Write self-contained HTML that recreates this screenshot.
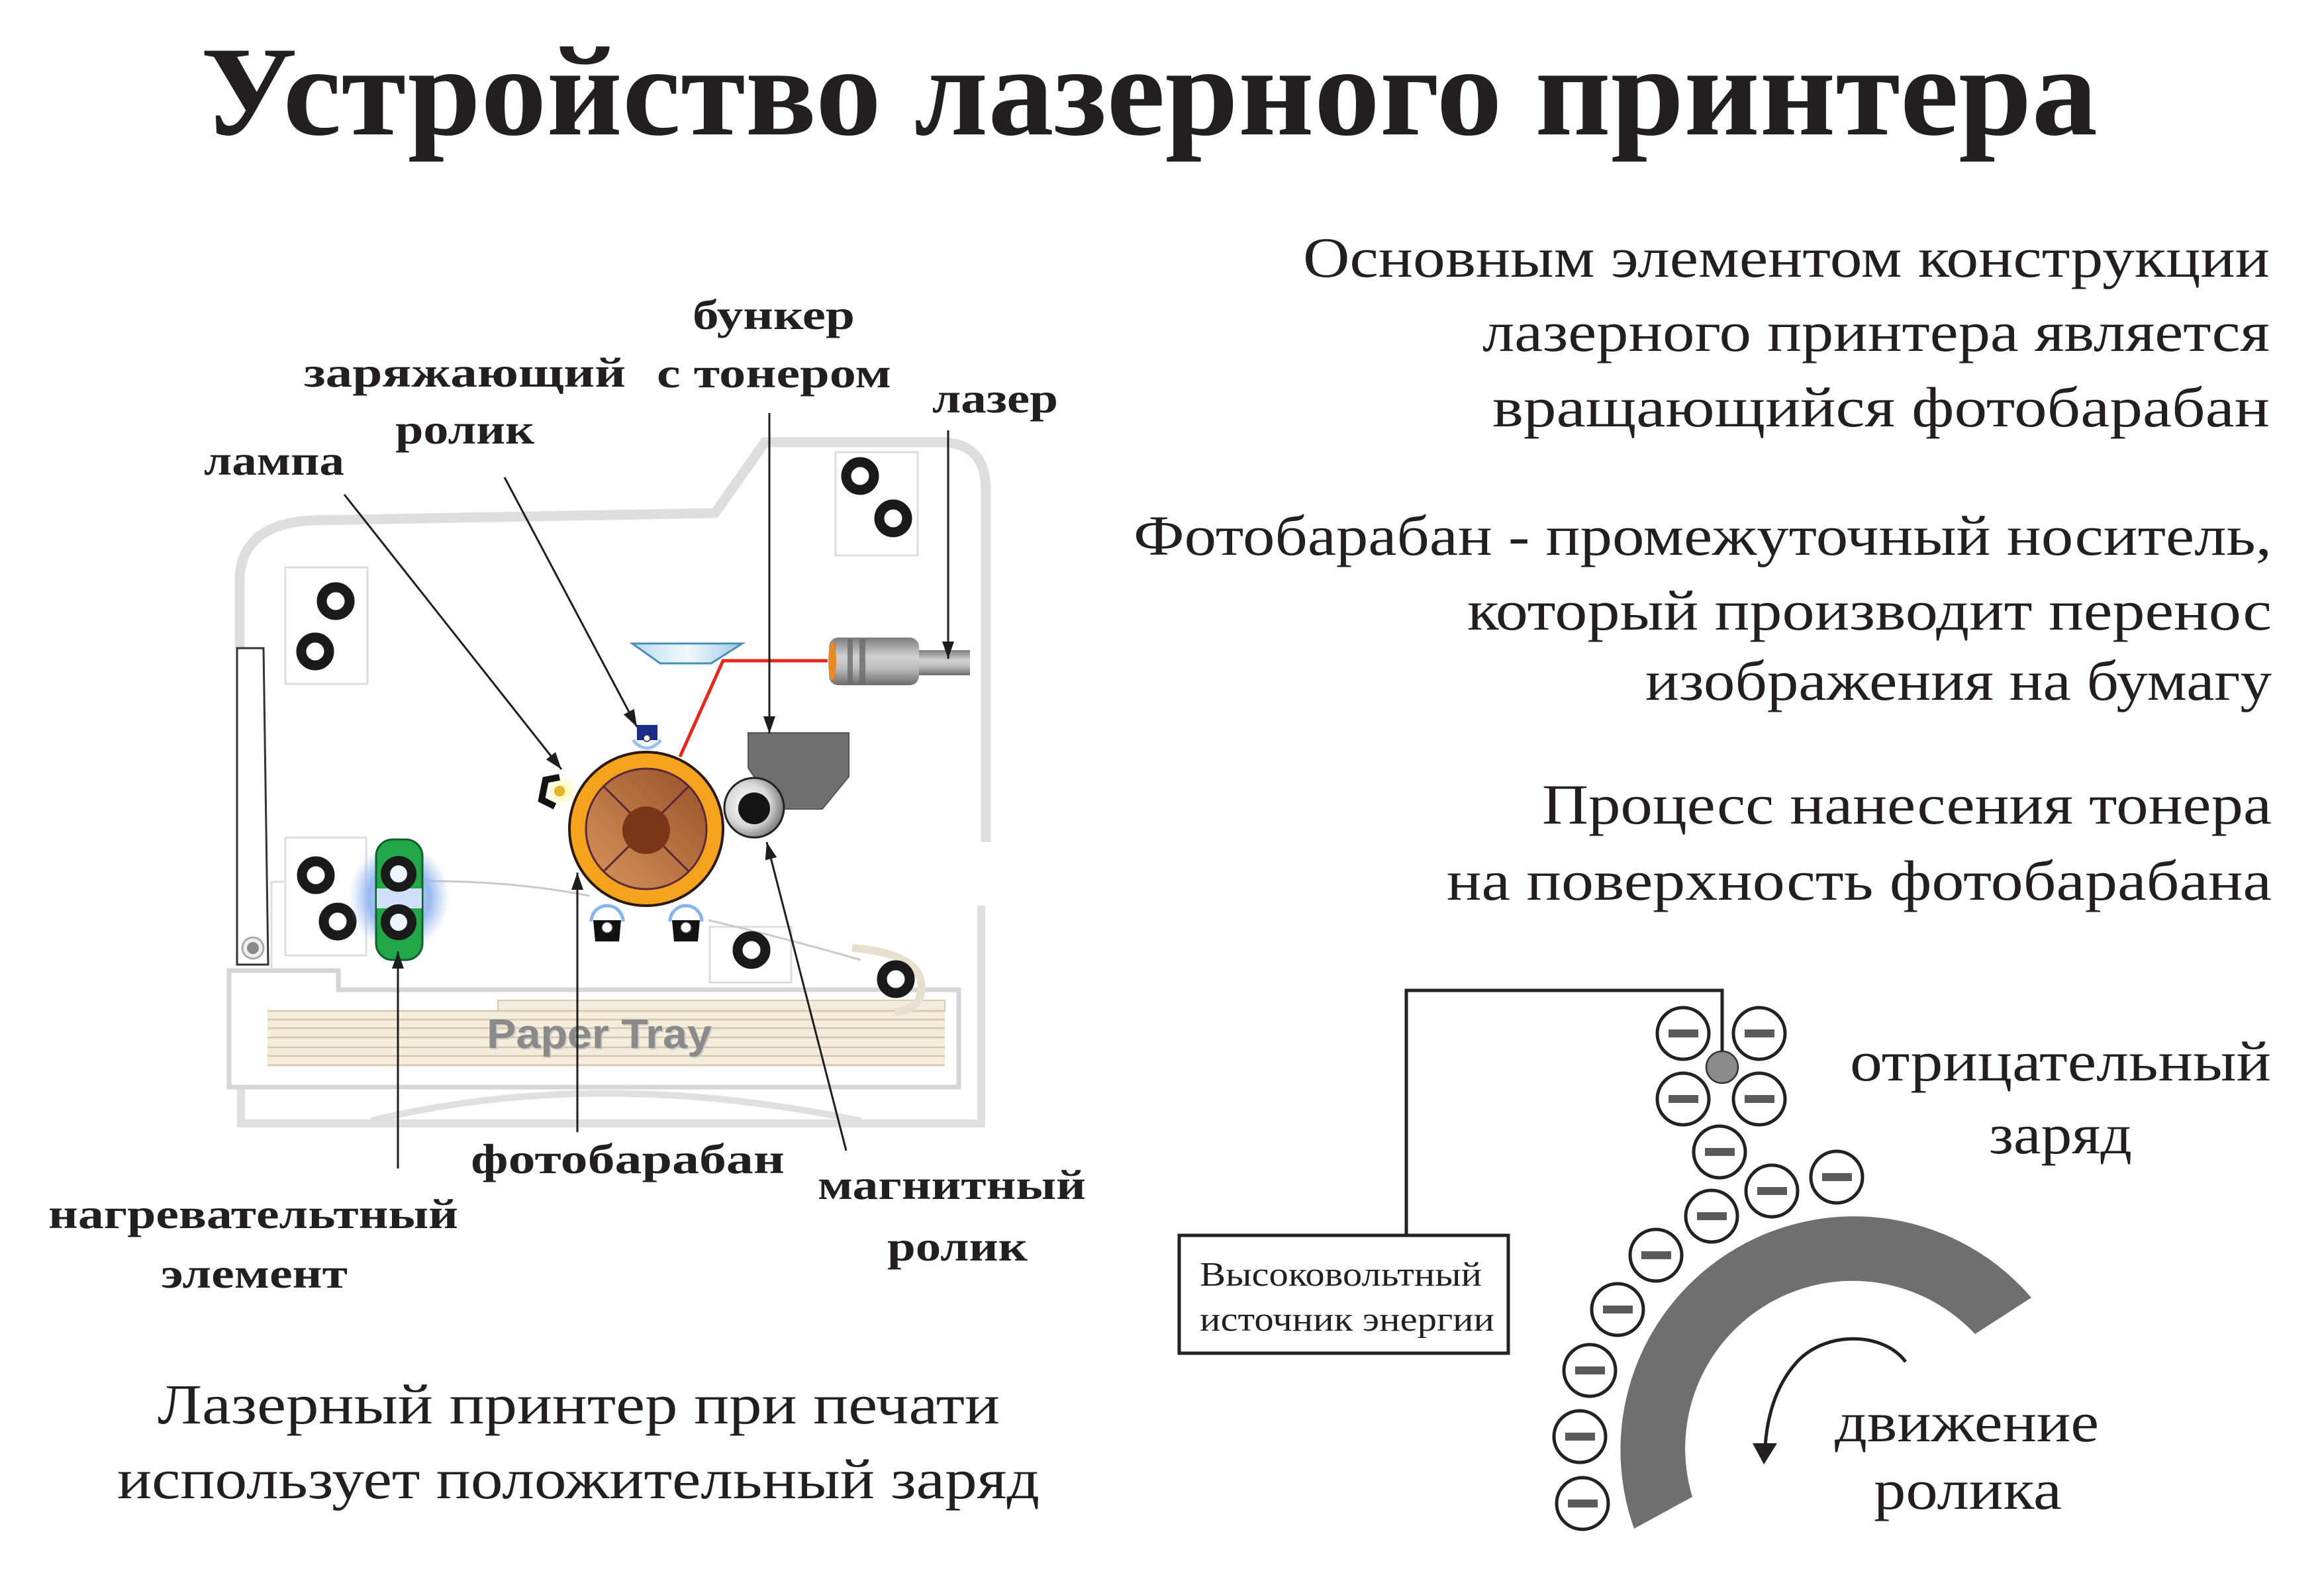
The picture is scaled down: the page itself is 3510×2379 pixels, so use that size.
<!DOCTYPE html>
<html>
<head>
<meta charset="utf-8">
<style>
html,body{margin:0;padding:0;background:#fff;}
svg{display:block;}
</style>
</head>
<body>
<svg width="3510" height="2379" viewBox="0 0 3510 2379" xmlns="http://www.w3.org/2000/svg">
<defs>
  <marker id="ah" markerUnits="userSpaceOnUse" markerWidth="28" markerHeight="20" refX="26" refY="9" orient="auto">
    <path d="M0,0 L26,9 L0,18 Z" fill="#1e1e1e"/>
  </marker>
  <linearGradient id="drumIn" x1="1" y1="0" x2="0" y2="1">
    <stop offset="0" stop-color="#97502a"/>
    <stop offset="1" stop-color="#d8955a"/>
  </linearGradient>
  <radialGradient id="silver" cx="0.4" cy="0.45" r="0.6">
    <stop offset="0" stop-color="#ffffff"/>
    <stop offset="0.6" stop-color="#d8d8d8"/>
    <stop offset="1" stop-color="#7a7a7a"/>
  </radialGradient>
  <linearGradient id="laserG" x1="0" y1="0" x2="0" y2="1">
    <stop offset="0" stop-color="#7c7c7c"/>
    <stop offset="0.4" stop-color="#d2d2d2"/>
    <stop offset="0.65" stop-color="#bcbcbc"/>
    <stop offset="1" stop-color="#6c6c6c"/>
  </linearGradient>
  <radialGradient id="glow" cx="0.5" cy="0.5" r="0.5">
    <stop offset="0" stop-color="#e8f1ff"/>
    <stop offset="0.6" stop-color="#96b9f0"/>
    <stop offset="1" stop-color="#a3c2f2" stop-opacity="0"/>
  </radialGradient>
  <radialGradient id="lampGlow" cx="0.5" cy="0.5" r="0.5">
    <stop offset="0" stop-color="#fff27a"/>
    <stop offset="1" stop-color="#fffbd0" stop-opacity="0"/>
  </radialGradient>
  <linearGradient id="mirrorG" x1="0" y1="0" x2="1" y2="0">
    <stop offset="0" stop-color="#b9dcf0"/>
    <stop offset="0.5" stop-color="#f2f9ff"/>
    <stop offset="1" stop-color="#9fcbe6"/>
  </linearGradient>
</defs>

<!-- ============ PRINTER DRAWING ============ -->
<path d="M362 979 L362 872 Q366 792 470 786 L1080 775 L1155 668 L1420 668 Q1489 668 1489 740 L1489 1272" fill="none" stroke="#dedede" stroke-width="15" stroke-linejoin="round"/>
<path d="M1482 1368 L1482 1697 L364 1697 L364 1642" fill="none" stroke="#e0e0e0" stroke-width="12"/>
<path d="M560 1693 Q900 1610 1300 1693" fill="none" stroke="#e0e0e0" stroke-width="10"/>
<path d="M346 1466 L511 1466 L511 1495 L1448 1495 L1448 1642 L346 1642 Z" fill="#fff" stroke="#d6d6d6" stroke-width="7"/>
<path d="M410 1466 L410 1332 L431 1332" fill="none" stroke="#dedede" stroke-width="3"/>
<rect x="752" y="1511" width="675" height="16" fill="#f5eddc" stroke="#d9cbb2" stroke-width="2"/>
<rect x="404" y="1527" width="1023" height="83" fill="#f5eddc"/>
<g stroke="#d5c5aa" stroke-width="2.5">
  <line x1="404" y1="1527" x2="1427" y2="1527"/>
  <line x1="404" y1="1540" x2="1427" y2="1540"/>
  <line x1="404" y1="1553" x2="1427" y2="1553"/>
  <line x1="404" y1="1567" x2="1427" y2="1567"/>
  <line x1="404" y1="1582" x2="1427" y2="1582"/>
  <line x1="404" y1="1595" x2="1427" y2="1595"/>
  <line x1="404" y1="1609" x2="1427" y2="1609"/>
</g>
<text x="737" y="1585" font-family="Liberation Sans, sans-serif" font-weight="bold" font-size="62" fill="#c9c9c9" textLength="340" lengthAdjust="spacingAndGlyphs">Paper Tray</text>
<text x="735" y="1583" font-family="Liberation Sans, sans-serif" font-weight="bold" font-size="62" fill="#8a8a8a" textLength="340" lengthAdjust="spacingAndGlyphs">Paper Tray</text>

<g fill="#fff" stroke="#dcdcdc" stroke-width="3">
  <rect x="1262" y="683" width="124" height="156"/>
  <rect x="431" y="857" width="124" height="176"/>
  <rect x="431" y="1265" width="122" height="178"/>
  <rect x="1072" y="1400" width="123" height="84"/>
</g>

<path d="M640 1331 Q770 1330 890 1353" fill="none" stroke="#c9c9c9" stroke-width="3"/>
<path d="M1070 1390 Q1190 1418 1300 1450" fill="none" stroke="#c9c9c9" stroke-width="3"/>
<path d="M1287 1432 Q1392 1440 1392 1492 Q1390 1526 1352 1528" fill="none" stroke="#e8e0cf" stroke-width="12"/>

<polygon points="358,979 398,979 405,1457 358,1457" fill="#fff" stroke="#333" stroke-width="3"/>
<circle cx="382" cy="1432" r="16" fill="#eee" stroke="#aaa" stroke-width="3"/>
<circle cx="382" cy="1432" r="9" fill="#8a8a8a"/>

<g fill="none" stroke="#1a1a1a" stroke-width="15">
  <circle cx="1299" cy="719" r="21"/>
  <circle cx="1349" cy="783" r="21"/>
  <circle cx="507" cy="908" r="21"/>
  <circle cx="476" cy="984" r="21"/>
  <circle cx="477" cy="1322" r="21"/>
  <circle cx="510" cy="1392" r="21"/>
  <circle cx="1135" cy="1435" r="21"/>
  <circle cx="1353" cy="1479" r="21"/>
</g>

<!-- fuser -->
<ellipse cx="603" cy="1355" rx="76" ry="82" fill="url(#glow)"/>
<rect x="568" y="1268" width="70" height="182" rx="25" fill="#22a84a" stroke="#135f2b" stroke-width="3"/>
<rect x="569" y="1342" width="68" height="30" fill="#cfe0f8"/>
<circle cx="602" cy="1320" r="13" fill="#eef5ff"/>
<circle cx="602" cy="1393" r="13" fill="#eef5ff"/>
<g fill="none" stroke="#1a1a1a" stroke-width="14">
  <circle cx="602" cy="1320" r="20"/>
  <circle cx="602" cy="1393" r="20"/>
</g>

<polygon points="955,972 1121,972 1074,1002 997,1002" fill="url(#mirrorG)" stroke="#4a8fb6" stroke-width="3"/>
<polyline points="1250,998 1092,998 1027,1143" fill="none" stroke="#e5281c" stroke-width="5"/>
<rect x="1252" y="963" width="136" height="72" rx="14" fill="url(#laserG)"/>
<rect x="1280" y="965" width="8" height="68" fill="#6a6a6a" opacity="0.8"/>
<rect x="1298" y="965" width="9" height="68" fill="#6a6a6a" opacity="0.8"/>
<path d="M1262 966 Q1248 999 1262 1032 Z" fill="#e0761e"/>
<ellipse cx="1257" cy="999" rx="6" ry="28" fill="#e88a2a"/>
<rect x="1388" y="982" width="77" height="38" fill="url(#laserG)"/>

<polygon points="1130,1107 1282,1107 1282,1173 1242,1222 1185,1222 1150,1190 1130,1160" fill="#6f6f6f" stroke="#555" stroke-width="2"/>

<path d="M956 1118 Q977 1142 998 1118" fill="none" stroke="#9cc0f0" stroke-width="5"/>
<rect x="962" y="1095" width="31" height="23" fill="#1c2a8c"/>
<circle cx="977" cy="1115" r="5" fill="#fff" stroke="#333" stroke-width="1.5"/>

<circle cx="848" cy="1195" r="26" fill="url(#lampGlow)"/>
<path d="M845 1174 L824 1178 L818 1208 L838 1218" fill="none" stroke="#111" stroke-width="10" stroke-linejoin="miter"/>
<circle cx="845" cy="1195" r="8" fill="#e8b030"/>

<circle cx="976" cy="1252" r="116" fill="#f5a21e" stroke="#2a1a10" stroke-width="4"/>
<circle cx="976" cy="1252" r="91" fill="url(#drumIn)" stroke="#5a2838" stroke-width="3"/>
<line x1="912" y1="1188" x2="1040" y2="1316" stroke="#5a2838" stroke-width="3"/>
<line x1="1040" y1="1188" x2="912" y2="1316" stroke="#5a2838" stroke-width="3"/>
<circle cx="976" cy="1254" r="36" fill="#7b3518"/>

<g>
  <path d="M893 1392 A24 24 0 0 1 941 1392" fill="none" stroke="#8ab4ee" stroke-width="5"/>
  <polygon points="896,1390 938,1390 935,1422 899,1422" fill="#111"/>
  <circle cx="917" cy="1401" r="8" fill="#fff" stroke="#555" stroke-width="1.5"/>
  <path d="M1012 1392 A24 24 0 0 1 1060 1392" fill="none" stroke="#8ab4ee" stroke-width="5"/>
  <polygon points="1015,1390 1057,1390 1054,1422 1018,1422" fill="#111"/>
  <circle cx="1036" cy="1401" r="8" fill="#fff" stroke="#555" stroke-width="1.5"/>
</g>

<circle cx="1139" cy="1220" r="45" fill="url(#silver)" stroke="#222" stroke-width="3"/>
<circle cx="1139" cy="1221" r="24" fill="#141414"/>

<g stroke="#1e1e1e" stroke-width="3" fill="none" marker-end="url(#ah)">
  <line x1="520" y1="747" x2="848" y2="1162"/>
  <line x1="762" y1="721" x2="962" y2="1098"/>
  <line x1="1162" y1="624" x2="1162" y2="1108"/>
  <line x1="1432" y1="650" x2="1432" y2="995"/>
  <line x1="601" y1="1765" x2="601" y2="1437"/>
  <line x1="872" y1="1710" x2="872" y2="1318"/>
  <line x1="1278" y1="1738" x2="1158" y2="1272"/>
</g>

<!-- ============ TEXT ============ -->
<g font-family="Liberation Serif, serif" fill="#231f20">
  <text x="303" y="203" font-size="193" font-weight="bold" textLength="2865" lengthAdjust="spacingAndGlyphs">Устройство лазерного принтера</text>

  <g font-size="86">
    <text x="1968" y="418" textLength="1460" lengthAdjust="spacingAndGlyphs">Основным элементом конструкции</text>
    <text x="2239" y="530" textLength="1189" lengthAdjust="spacingAndGlyphs">лазерного принтера является</text>
    <text x="2254" y="644" textLength="1174" lengthAdjust="spacingAndGlyphs">вращающийся фотобарабан</text>
    <text x="1712" y="838" textLength="1719" lengthAdjust="spacingAndGlyphs">Фотобарабан - промежуточный носитель,</text>
    <text x="2216" y="951" textLength="1215" lengthAdjust="spacingAndGlyphs">который производит перенос</text>
    <text x="2485" y="1057" textLength="946" lengthAdjust="spacingAndGlyphs">изображения на бумагу</text>
    <text x="2329" y="1244" textLength="1102" lengthAdjust="spacingAndGlyphs">Процесс нанесения тонера</text>
    <text x="2185" y="1359" textLength="1246" lengthAdjust="spacingAndGlyphs">на поверхность фотобарабана</text>

    <text x="238" y="2150" textLength="1272" lengthAdjust="spacingAndGlyphs">Лазерный принтер при печати</text>
    <text x="177" y="2263" textLength="1393" lengthAdjust="spacingAndGlyphs">использует положительный заряд</text>

    <text x="2794" y="1632" textLength="636" lengthAdjust="spacingAndGlyphs">отрицательный</text>
    <text x="3004" y="1742" textLength="216" lengthAdjust="spacingAndGlyphs">заряд</text>
    <text x="2771" y="2177" textLength="399" lengthAdjust="spacingAndGlyphs">движение</text>
    <text x="2830" y="2279" textLength="284" lengthAdjust="spacingAndGlyphs">ролика</text>
  </g>

  <g font-size="64" font-weight="bold">
    <text x="1046" y="497" textLength="245" lengthAdjust="spacingAndGlyphs">бункер</text>
    <text x="992" y="585" textLength="354" lengthAdjust="spacingAndGlyphs">с тонером</text>
    <text x="459" y="584" textLength="486" lengthAdjust="spacingAndGlyphs">заряжающий</text>
    <text x="597" y="670" textLength="210" lengthAdjust="spacingAndGlyphs">ролик</text>
    <text x="308" y="717" textLength="212" lengthAdjust="spacingAndGlyphs">лампа</text>
    <text x="1408" y="623" textLength="190" lengthAdjust="spacingAndGlyphs">лазер</text>
    <text x="73" y="1855" textLength="619" lengthAdjust="spacingAndGlyphs">нагревательтный</text>
    <text x="243" y="1945" textLength="282" lengthAdjust="spacingAndGlyphs">элемент</text>
    <text x="711" y="1772" textLength="474" lengthAdjust="spacingAndGlyphs">фотобарабан</text>
    <text x="1235" y="1811" textLength="405" lengthAdjust="spacingAndGlyphs">магнитный</text>
    <text x="1340" y="1904" textLength="212" lengthAdjust="spacingAndGlyphs">ролик</text>
  </g>
</g>

<!-- ============ CHARGE DIAGRAM ============ -->
<path d="M2468 2309 A353 353 0 0 1 3068 1960 L2983 2015 A253 253 0 0 0 2556 2261 Z" fill="#6f6f6d"/>
<path d="M2878 2057 C2845 2012 2760 2010 2716 2055 C2686 2087 2670 2130 2666 2184" fill="none" stroke="#231f20" stroke-width="5"/>
<polygon points="2647,2180 2684,2180 2664,2212" fill="#231f20"/>

<polyline points="2124,1866 2124,1496 2601,1496 2601,1590" fill="none" stroke="#222" stroke-width="5"/>
<rect x="1781" y="1866" width="497" height="178" fill="#fff" stroke="#222" stroke-width="5"/>
<g font-family="Liberation Serif, serif" fill="#231f20" font-size="52">
  <text x="1812" y="1942" textLength="426" lengthAdjust="spacingAndGlyphs">Высоковольтный</text>
  <text x="1812" y="2010" textLength="445" lengthAdjust="spacingAndGlyphs">источник энергии</text>
</g>

<g>
  <g fill="#fff" stroke="#222" stroke-width="5">
    <circle cx="2542" cy="1561" r="39"/>
    <circle cx="2657" cy="1561" r="39"/>
    <circle cx="2542" cy="1660" r="39"/>
    <circle cx="2657" cy="1660" r="39"/>
    <circle cx="2597" cy="1740" r="39"/>
    <circle cx="2774" cy="1778" r="39"/>
    <circle cx="2676" cy="1799" r="39"/>
    <circle cx="2585" cy="1837" r="39"/>
    <circle cx="2501" cy="1896" r="39"/>
    <circle cx="2443" cy="1978" r="39"/>
    <circle cx="2401" cy="2070" r="39"/>
    <circle cx="2386" cy="2170" r="39"/>
    <circle cx="2390" cy="2271" r="39"/>
  </g>
  <g fill="#5a5a5a">
    <rect x="2520" y="1555" width="45" height="12"/>
    <rect x="2635" y="1555" width="45" height="12"/>
    <rect x="2520" y="1654" width="45" height="12"/>
    <rect x="2635" y="1654" width="45" height="12"/>
    <rect x="2575" y="1734" width="45" height="12"/>
    <rect x="2752" y="1772" width="45" height="12"/>
    <rect x="2654" y="1793" width="45" height="12"/>
    <rect x="2563" y="1831" width="45" height="12"/>
    <rect x="2479" y="1890" width="45" height="12"/>
    <rect x="2421" y="1972" width="45" height="12"/>
    <rect x="2379" y="2064" width="45" height="12"/>
    <rect x="2364" y="2164" width="45" height="12"/>
    <rect x="2368" y="2265" width="45" height="12"/>
  </g>
</g>
<circle cx="2601" cy="1612" r="24" fill="#8a8a8a" stroke="#333" stroke-width="2.5"/>
</svg>
</body>
</html>
